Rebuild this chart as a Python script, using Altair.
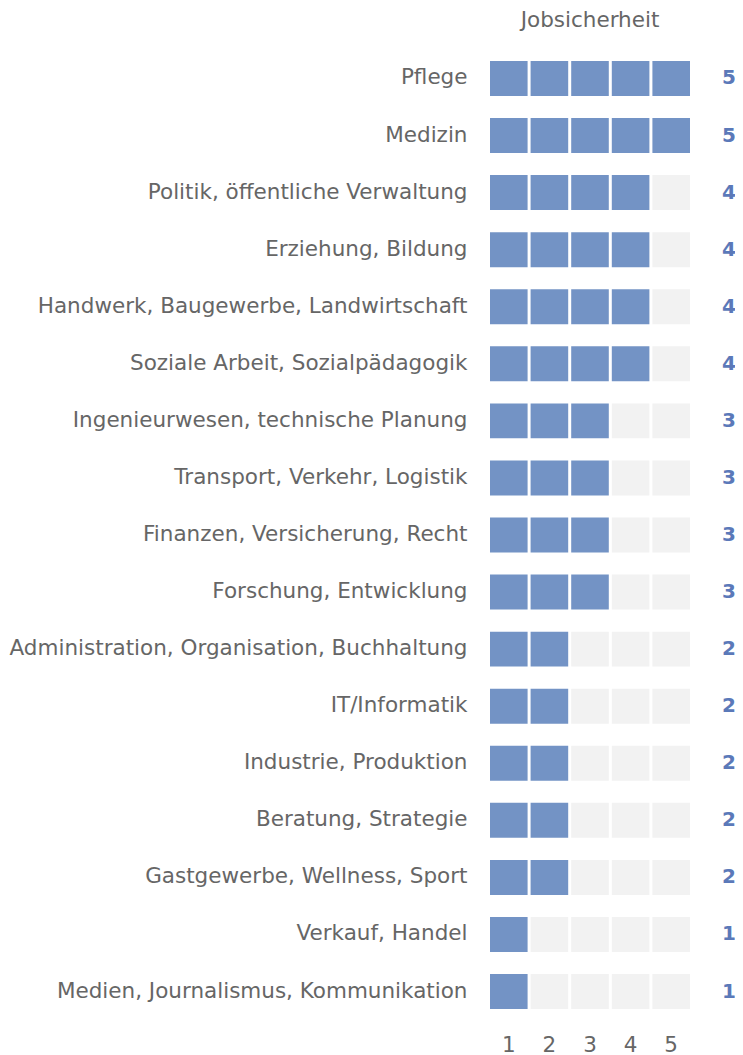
import altair as alt
import pandas as pd

categories = [
    "Pflege",
    "Medizin",
    "Politik, öffentliche Verwaltung",
    "Erziehung, Bildung",
    "Handwerk, Baugewerbe, Landwirtschaft",
    "Soziale Arbeit, Sozialpädagogik",
    "Ingenieurwesen, technische Planung",
    "Transport, Verkehr, Logistik",
    "Finanzen, Versicherung, Recht",
    "Forschung, Entwicklung",
    "Administration, Organisation, Buchhaltung",
    "IT/Informatik",
    "Industrie, Produktion",
    "Beratung, Strategie",
    "Gastgewerbe, Wellness, Sport",
    "Verkauf, Handel",
    "Medien, Journalismus, Kommunikation",
]
values = [5, 5, 4, 4, 4, 4, 3, 3, 3, 3, 2, 2, 2, 2, 2, 1, 1]
positions = [1, 2, 3, 4, 5]
title_text = "Jobsicherheit"

BLUE = "#7393c5"
GRAY = "#f2f2f2"
LABEL_BLUE = "#5b79b9"
TEXT = "#666666"
FONT = "DejaVu Sans"
FS = 21.5

rows = []
for c, v in zip(categories, values):
    for p in positions:
        rows.append({"Bereich": c, "Stufe": p, "Status": "voll" if p <= v else "leer"})
cells = pd.DataFrame(rows)
summary = pd.DataFrame({"Bereich": categories, "Wert": values})

y_enc = alt.Y(
    "Bereich:N",
    sort=categories,
    scale=alt.Scale(paddingInner=0.387, paddingOuter=0.28),
    axis=alt.Axis(
        title=None, ticks=False, domain=False, grid=False, labelPadding=23,
        labelFont=FONT, labelFontSize=FS, labelColor=TEXT, labelLimit=600,
    ),
)

rects = alt.Chart(cells).mark_rect().encode(
    x=alt.X(
        "Stufe:O",
        scale=alt.Scale(paddingInner=0.074, paddingOuter=0),
        axis=alt.Axis(
            title=None, ticks=False, domain=False, grid=False, labelAngle=0, labelPadding=9,
            labelFont=FONT, labelFontSize=FS, labelColor=TEXT,
        ),
    ),
    y=y_enc,
    color=alt.Color(
        "Status:N",
        scale=alt.Scale(domain=["voll", "leer"], range=[BLUE, GRAY]),
        legend=None,
    ),
)

labels = alt.Chart(summary).mark_text(
    font=FONT, fontSize=20, fontWeight="bold", color=LABEL_BLUE, align="center", baseline="middle"
).encode(
    x=alt.value(239),
    y=alt.Y("Bereich:N", sort=categories),
    text="Wert:Q",
)

chart = (
    alt.layer(rects, labels)
    .properties(
        width=200,
        height=980,
        title=alt.TitleParams(
            title_text, anchor="middle", font=FONT, fontSize=FS, fontWeight="normal",
            color=TEXT, offset=14,
        ),
        autosize=alt.AutoSizeParams(type="none"),
        padding={"left": 482, "top": 37, "right": 45, "bottom": 40},
    )
    .configure(background="white")
    .configure_view(strokeWidth=0, stroke="transparent")
)

chart.save("out.html", embed_options={"renderer": "svg", "actions": False})
